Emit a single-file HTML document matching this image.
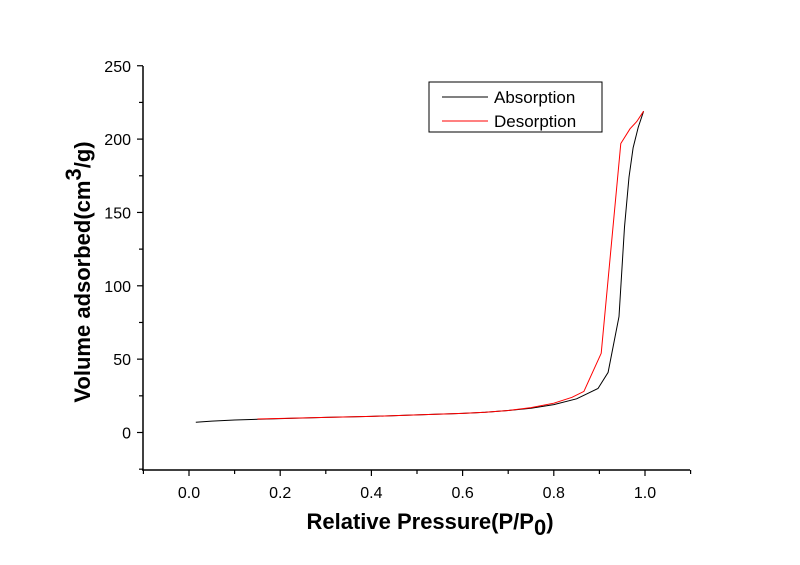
<!DOCTYPE html>
<html><head><meta charset="utf-8"><style>
body{margin:0;background:#fff}
svg{display:block;font-family:"Liberation Sans",Arial,sans-serif}
</style></head><body>
<svg id="chart" width="800" height="565" viewBox="0 0 800 565">
<g id="axes"></g>
<g id="series"></g>
<text x="430" y="529" text-anchor="middle" font-size="22" font-weight="bold">Relative Pressure(P/P<tspan dy="6">0</tspan><tspan dy="-6">)</tspan></text>
<text transform="translate(90,272) rotate(-90)" text-anchor="middle" font-size="22" font-weight="bold">Volume adsorbed(cm<tspan dy="-9">3</tspan><tspan dy="9">/g)</tspan></text>
<g>
<rect x="429" y="82" width="173" height="50" fill="#fff" stroke="#000" stroke-width="1"/>
<line x1="442" y1="97" x2="488" y2="97" stroke="#000"/>
<text x="494" y="103" font-size="17">Absorption</text>
<line x1="442" y1="121" x2="488" y2="121" stroke="#f00"/>
<text x="494" y="127" font-size="17">Desorption</text>
</g>
</svg>
<script>
const adsP = [0.015,0.05,0.1,0.2,0.3,0.4,0.5,0.6,0.65,0.7,0.75,0.8,0.85,0.87,0.897,0.919,0.943,0.955,0.965,0.974,0.985,0.997];
const adsV = [7,7.8,8.5,9.5,10.3,11,12,13,13.8,15,16.5,19,23,26,30,41,79,140,174,194,208,219];
const desP = [0.15,0.3,0.4,0.5,0.6,0.65,0.7,0.75,0.8,0.84,0.866,0.904,0.947,0.967,0.982,0.997];
const desV = [9.2,10.3,11,12,13,13.8,15,17,20,24,28,54,197,207,212,219];
const xTicks = [0,0.2,0.4,0.6,0.8,1.0];
const xTickLabels = ["0.0","0.2","0.4","0.6","0.8","1.0"];
const yTicks = [0,50,100,150,200,250];
const x = p => 189 + (p-0)*456;
const y = v => 432.5 - v*1.467;
const NS="http://www.w3.org/2000/svg";
const axes=document.getElementById('axes'), series=document.getElementById('series');
function mk(tag,attrs,parent){const e=document.createElementNS(NS,tag);for(const k in attrs)e.setAttribute(k,attrs[k]);parent.appendChild(e);return e;}
let e;
e=mk('line',{x1:143,y1:66,x2:143,y2:470,stroke:'#000','stroke-width':1.5},axes);


e=mk('line',{x1:142,y1:470,x2:690,y2:470,stroke:'#000','stroke-width':1.5},axes);


for(let i=-1;i<=11;i++){const p=i/10;const major=(i%2===0);
 e=mk('line',{x1:x(p),y1:470,x2:x(p),y2:major?476:474,stroke:'#000','stroke-width':1.2},axes);
 
 }
xTicks.forEach((p,i)=>{e=mk('text',{x:x(p),y:498,'text-anchor':'middle','font-size':16},axes);e.textContent=xTickLabels[i];
 
 });
for(let v=-25;v<=250;v+=25){const major=(v%50===0);
 e=mk('line',{x1:major?137:139,y1:y(v),x2:143,y2:y(v),stroke:'#000','stroke-width':1.2},axes);
 
 }
yTicks.forEach(v=>{e=mk('text',{x:131,y:y(v)+6,'text-anchor':'end','font-size':16},axes);e.textContent=String(v);
 
 });
function line(P,V,color,name){const d=P.map((p,i)=>(i?'L':'M')+x(p).toFixed(1)+','+y(V[i]).toFixed(1)).join(' ');
 const el=mk('path',{d:d,fill:'none',stroke:color,'stroke-width':1},series);
 
 }
line(adsP,adsV,'#000','absorption-line');
line(desP,desV,'#f00','desorption-line');
</script>
</body></html>
